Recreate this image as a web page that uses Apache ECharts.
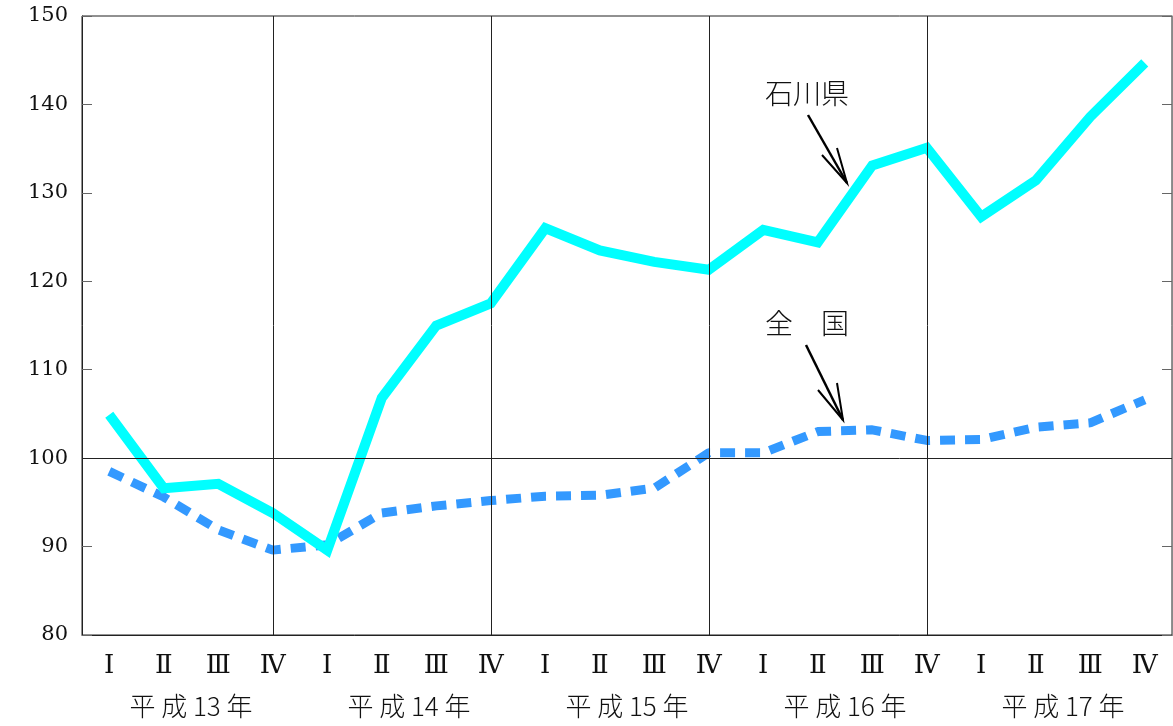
<!DOCTYPE html>
<html><head><meta charset="utf-8">
<script src="https://cdn.jsdelivr.net/npm/echarts@6/dist/echarts.min.js"></script>
<style>html,body{margin:0;padding:0;background:#fff}#c{width:1173px;height:726px}</style>
</head><body><div id="c"></div>
<script>
const quarters = ['Ⅰ','Ⅱ','Ⅲ','Ⅳ','Ⅰ','Ⅱ','Ⅲ','Ⅳ','Ⅰ','Ⅱ','Ⅲ','Ⅳ','Ⅰ','Ⅱ','Ⅲ','Ⅳ','Ⅰ','Ⅱ','Ⅲ','Ⅳ'];
const years = ['平 成 13 年','平 成 14 年','平 成 15 年','平 成 16 年','平 成 17 年'];
const ishikawa = [104.9,96.6,97.1,93.8,89.6,106.8,115.0,117.5,126.0,123.5,122.2,121.3,125.8,124.4,133.1,135.1,127.3,131.4,138.6,144.7];
const zenkoku = [98.5,95.6,91.9,89.6,90.2,93.8,94.6,95.2,95.7,95.8,96.6,100.6,100.6,103.0,103.2,102.0,102.1,103.5,104.0,106.6];
const yearEnds = [3,7,11,15];
const yTicks = {min:80, max:150, interval:10};

const chart = echarts.init(document.getElementById('c'));
const serif = "'DejaVu Serif','Liberation Serif',serif";
const cjk = "'Noto Sans CJK JP','Noto Sans CJK SC',sans-serif";
chart.setOption({
  animation:false,
  backgroundColor:'#fff',
  grid:{left:82,right:1,top:16,bottom:91,show:true,borderColor:'#222',borderWidth:1},
  xAxis:[{
    type:'category', data:quarters, boundaryGap:true,
    axisLine:{lineStyle:{color:'#222',width:1}},
    axisTick:{inside:true,length:6,alignWithLabel:true,lineStyle:{color:'#555'}},
    axisLabel:{color:'#111',fontSize:26,fontFamily:serif,margin:18,interval:0}
  },{
    type:'category', data:years, boundaryGap:true, position:'bottom', offset:52,
    axisLine:{show:false}, axisTick:{show:false},
    axisLabel:{color:'#111',fontSize:26,fontFamily:cjk,fontWeight:300,margin:6,interval:0}
  }],
  yAxis:[{
    type:'value', min:yTicks.min, max:yTicks.max, interval:yTicks.interval,
    axisLine:{show:true,lineStyle:{color:'#222'}},
    axisTick:{show:true,inside:true,length:10,lineStyle:{color:'#666'}},
    splitLine:{show:false},
    axisLabel:{color:'#111',fontSize:21,fontFamily:serif,margin:14}
  },{
    type:'value', min:yTicks.min, max:yTicks.max, interval:yTicks.interval, position:'right',
    axisLine:{show:true,lineStyle:{color:'#888'}},
    axisTick:{show:true,inside:true,length:10,lineStyle:{color:'#666'}},
    splitLine:{show:false}, axisLabel:{show:false}
  }],
  series:[{
    name:'石川県', type:'line', data:ishikawa, symbol:'none', z:3,
    lineStyle:{color:'#00FFFF',width:10,join:'miter',cap:'butt'},
    markLine:{silent:true,symbol:'none',label:{show:false},
      lineStyle:{color:'#222',width:1,type:'solid'},
      data:yearEnds.map(i=>({xAxis:i})).concat([{yAxis:100}])}
  },{
    name:'全国', type:'line', data:zenkoku, symbol:'none', z:2,
    lineStyle:{color:'#3399FF',width:9,type:[15,10],cap:'butt'}
  }],
  graphic:[
    {type:'text',left:765,top:79,style:{text:'石川県',font:"300 28px 'Noto Sans CJK JP'",fill:'#111'}},
    {type:'text',left:765,top:309,style:{text:'全　国',font:"300 28px 'Noto Sans CJK JP'",fill:'#111'}},
    {type:'polyline',shape:{points:[[808,115],[847,183]]},style:{stroke:'#000',lineWidth:2.5,fill:null}},
    {type:'polyline',shape:{points:[[822,155],[847,183],[837,148]]},style:{stroke:'#000',lineWidth:2,fill:null}},
    {type:'polyline',shape:{points:[[806,345],[843,420]]},style:{stroke:'#000',lineWidth:2.5,fill:null}},
    {type:'polyline',shape:{points:[[818,390],[843,420],[837,383]]},style:{stroke:'#000',lineWidth:2,fill:null}}
  ]
});
</script></body></html>
